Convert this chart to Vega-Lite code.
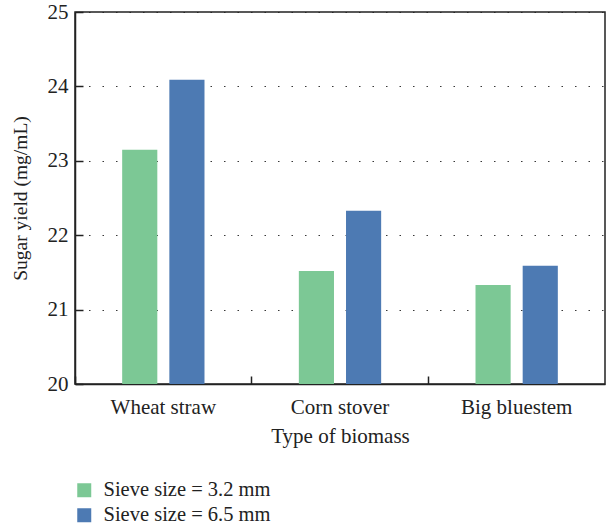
{
  "$schema": "https://vega.github.io/schema/vega-lite/v6.json",
  "autosize": "none",
  "width": 530,
  "height": 372,
  "padding": {"left": 75, "top": 12, "right": 1, "bottom": 145},
  "config": {
    "font": "Liberation Serif",
    "view": {"stroke": "#222", "strokeWidth": 1.5},
    "axis": {"labelFont": "Liberation Serif", "titleFont": "Liberation Serif", "labelColor": "#222", "titleColor": "#222", "titleFontWeight": "normal", "domainColor": "#222", "tickColor": "#222"}
  },
  "data": {
    "values": [
      {"biomass": "Wheat straw", "sieve": "Sieve size = 3.2 mm", "yield": 23.15},
      {"biomass": "Wheat straw", "sieve": "Sieve size = 6.5 mm", "yield": 24.09},
      {"biomass": "Corn stover", "sieve": "Sieve size = 3.2 mm", "yield": 21.52},
      {"biomass": "Corn stover", "sieve": "Sieve size = 6.5 mm", "yield": 22.33},
      {"biomass": "Big bluestem", "sieve": "Sieve size = 3.2 mm", "yield": 21.33},
      {"biomass": "Big bluestem", "sieve": "Sieve size = 6.5 mm", "yield": 21.59}
    ]
  },
  "mark": {"type": "bar"},
  "encoding": {
    "x": {
      "field": "biomass", "type": "nominal", "sort": null,
      "scale": {"paddingInner": 0, "paddingOuter": 0},
      "axis": {"title": "Type of biomass", "labelAngle": 0, "labelFontSize": 21, "titleFontSize": 21, "labelPadding": 20, "titlePadding": 8, "tickSize": -8, "tickWidth": 1.5, "bandPosition": 0, "domainWidth": 1.5, "grid": false}
    },
    "xOffset": {
      "field": "sieve", "type": "nominal",
      "scale": {"paddingInner": 0.255, "paddingOuter": 1.01}
    },
    "y": {
      "field": "yield", "type": "quantitative",
      "scale": {"domain": [20, 25], "zero": false, "nice": false},
      "axis": {"title": "Sugar yield (mg/mL)", "values": [20, 21, 22, 23, 24, 25], "labelFontSize": 21, "titleFontSize": 19.5, "labelPadding": 15, "titlePadding": 17, "tickSize": -8, "tickWidth": 1.5, "domainWidth": 1.5, "grid": true, "gridColor": "#222", "gridDash": [1.5, 12], "gridWidth": 1.2, "gridOpacity": 0.9}
    },
    "y2": {"datum": 20},
    "color": {
      "field": "sieve", "type": "nominal",
      "scale": {"domain": ["Sieve size = 3.2 mm", "Sieve size = 6.5 mm"], "range": ["#7cc895", "#4d7ab3"]},
      "legend": {"title": null, "orient": "none", "legendX": -1, "legendY": 468, "direction": "vertical", "symbolType": "square", "symbolSize": 196, "symbolStrokeWidth": 0, "labelFontSize": 20.5, "labelFont": "Liberation Serif", "labelColor": "#222", "labelOffset": 9, "labelLimit": 0, "rowPadding": 4}
    }
  }
}
